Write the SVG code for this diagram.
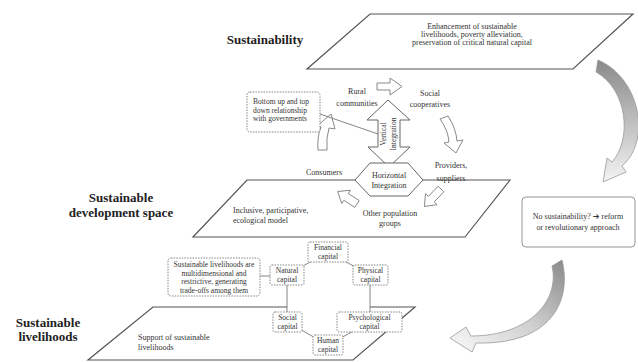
<svg xmlns="http://www.w3.org/2000/svg" width="638" height="362" viewBox="0 0 638 362">
<defs>
<style>
.t{font-family:"Liberation Serif","DejaVu Serif",serif;font-size:8px;fill:#333}
.s{font-size:7.5px}
.c{text-anchor:middle}
.h{font-family:"Liberation Serif","DejaVu Serif",serif;font-weight:bold;font-size:13px;fill:#222}
.plane{fill:#fff;stroke:#555;stroke-width:1.2}
.blk{fill:#fff;stroke:#888;stroke-width:1}
.dot{fill:#fff;stroke:#777;stroke-width:0.9;stroke-dasharray:1.5 1.2}
.box{fill:#fff;stroke:#777;stroke-width:0.9}
.ln{fill:none;stroke:#777;stroke-width:0.9}
</style>
<linearGradient id="g1" x1="0" y1="0" x2="0" y2="1">
<stop offset="0" stop-color="#8a8a8a"/><stop offset="0.6" stop-color="#c8c8c8"/><stop offset="1" stop-color="#f4f4f4"/>
</linearGradient>
<linearGradient id="g2" x1="1" y1="0" x2="0" y2="1">
<stop offset="0" stop-color="#8a8a8a"/><stop offset="0.5" stop-color="#d0d0d0"/><stop offset="1" stop-color="#fafafa"/>
</linearGradient>
</defs>
<rect width="638" height="362" fill="#fff"/>

<g id="level-labels">
<text class="h c" x="265" y="44">Sustainability</text>
<text class="h c" x="121" y="202">Sustainable</text>
<text class="h c" x="121" y="217">development space</text>
<text class="h c" x="48" y="327">Sustainable</text>
<text class="h c" x="48" y="341">livelihoods</text>
</g>

<g id="plane-sustainability">
<polygon class="plane" points="370,14 633,14 573,69 307,69"/>
<text class="t c" x="472" y="29">Enhancement of sustainable</text>
<text class="t c" x="472" y="37">livelihoods, poverty alleviation,</text>
<text class="t c" x="472" y="45">preservation of critical natural capital</text>
</g>

<g id="plane-development">
<polygon class="plane" points="247,180 510,180 465,237 193,237"/>
<text class="t" x="233" y="212.5">Inclusive, participative,</text>
<text class="t" x="233" y="222.5">ecological model</text>
</g>

<g id="plane-livelihoods">
<polygon class="plane" points="153,307 415,307 353,360 88,360"/>
<text class="t" x="138" y="339.5">Support of sustainable</text>
<text class="t" x="138" y="349.5">livelihoods</text>
</g>

<g id="connectors">
<path id="arrow-down-right" d="M598,60 C640,78 652,140 622,166 L626,172 L603,182 L607,158 L612,162 C632,140 628,90 596,72 Z" fill="url(#g1)" stroke="#999" stroke-width="0.8"/>
<path id="arrow-down-left" d="M552,266 L562,260 C572,300 552,345 476,343 L472,352 L450,338 L466,327 L471,336 C530,336 560,300 552,266 Z" fill="url(#g2)" stroke="#999" stroke-width="0.8"/>
<path class="blk" d="M377,83 L390,83 L390,78 L402,86.5 L390,95 L390,90 L377,90 Z"/>
<path class="blk" d="M440,119 L448,116 Q456,128 457,141 L463,140 L456,153 L444,143 L449,142 Q448,130 440,119 Z"/>
<path class="blk" d="M438.1,186.2 L443.9,191.8 L434.2,201.9 L437.1,204.7 L424.4,206.5 L425.5,193.7 L428.4,196.4 Z"/>
<path class="blk" d="M359.2,200.6 L348.3,193.5 L350.5,190.2 L337.7,191.5 L341.7,203.6 L343.9,200.3 L354.8,207.4 Z"/>
<path class="blk" d="M318,150 Q317,136 321,127 L316,127 L331,114 L335,129 L329,128 Q326,138 327,150 Z"/>
<line class="ln" x1="320" y1="114" x2="378" y2="134"/>
<line class="ln" x1="260" y1="276" x2="270" y2="276"/>
<polygon class="box" points="328,252 370,275 370,322 328,345 287,322 287,275"/>
</g>

<g id="node-bottom-up">
<rect class="dot" x="247" y="92" width="73" height="40" rx="3"/>
<text class="t s" x="253" y="104">Bottom up and top</text>
<text class="t s" x="253" y="112.5">down relationship</text>
<text class="t s" x="253" y="121">with governments</text>
</g>

<g id="node-rural">
<text class="t c" x="357" y="94">Rural</text>
<text class="t c" x="357" y="105.5">communities</text>
</g>
<g id="node-social">
<text class="t c" x="430" y="95.5">Social</text>
<text class="t c" x="430" y="106.5">cooperatives</text>
</g>
<g id="node-providers">
<text class="t c" x="451" y="167.5">Providers,</text>
<text class="t c" x="451" y="180.5">suppliers</text>
</g>
<g id="node-consumers">
<text class="t c" x="324" y="174.5">Consumers</text>
</g>
<g id="node-other">
<text class="t c" x="390" y="215.5">Other population</text>
<text class="t c" x="390" y="225.5">groups</text>
</g>

<g id="node-vertical">
<path d="M388,100 L410,120 L400,120 L400,147 L410,147 L389,167 L368,147 L378,147 L378,120 L367,120 Z" fill="#fff" stroke="#666" stroke-width="1"/>
<text class="t s c" transform="translate(385.5,134) rotate(-90)">Vertical</text>
<text class="t s c" transform="translate(395.5,134) rotate(-90)">Integration</text>
</g>
<g id="node-horizontal">
<path d="M355,180 L370,163 L408,163 L423,180 L408,196 L370,196 Z" fill="#fff" stroke="#666" stroke-width="1"/>
<text class="t c" x="389" y="177.5">Horizontal</text>
<text class="t c" x="389" y="188">Integration</text>
</g>

<g id="node-no-sustainability">
<rect x="522" y="197" width="113" height="50" rx="4" fill="#fff" stroke="#888" stroke-width="0.9"/>
<text class="t c" x="578" y="219" style="font-family:'Liberation Serif','DejaVu Sans',serif">No sustainability? ➔ reform</text>
<text class="t c" x="578" y="229.5">or revolutionary approach</text>
</g>

<g id="node-tradeoffs">
<rect class="dot" x="168" y="258" width="92" height="38" rx="3"/>
<text class="t s c" x="214" y="267">Sustainable livelihoods are</text>
<text class="t s c" x="214" y="275.5">multidimensional and</text>
<text class="t s c" x="214" y="284">restrictive, generating</text>
<text class="t s c" x="214" y="292.5">trade-offs among them</text>
</g>

<g id="node-financial">
<rect class="dot" x="308" y="242" width="40" height="20" rx="2"/>
<text class="t s c" x="328" y="250">Financial</text>
<text class="t s c" x="328" y="258.5">capital</text>
</g>
<g id="node-natural">
<rect class="dot" x="270" y="265" width="34" height="20" rx="2"/>
<text class="t s c" x="287" y="273">Natural</text>
<text class="t s c" x="287" y="281.5">capital</text>
</g>
<g id="node-physical">
<rect class="dot" x="353" y="265" width="35" height="20" rx="2"/>
<text class="t s c" x="370.5" y="273">Physical</text>
<text class="t s c" x="370.5" y="281.5">capital</text>
</g>
<g id="node-social-capital">
<rect class="dot" x="273" y="312" width="29" height="20" rx="2"/>
<text class="t s c" x="287.5" y="320">Social</text>
<text class="t s c" x="287.5" y="328.5">capital</text>
</g>
<g id="node-psychological">
<rect class="dot" x="337" y="312" width="65" height="20" rx="2"/>
<text class="t s c" x="369.5" y="320">Psychological</text>
<text class="t s c" x="369.5" y="328.5">capital</text>
</g>
<g id="node-human">
<rect class="dot" x="313" y="335" width="30" height="20" rx="2"/>
<text class="t s c" x="328" y="343">Human</text>
<text class="t s c" x="328" y="351.5">capital</text>
</g>
</svg>
